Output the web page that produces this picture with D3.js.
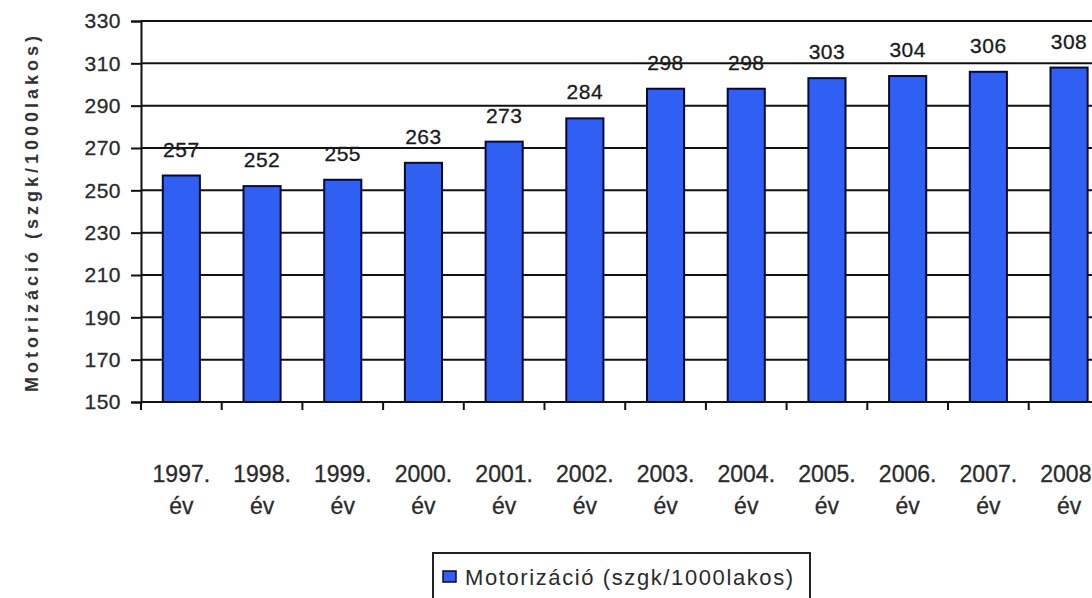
<!DOCTYPE html>
<html>
<head>
<meta charset="utf-8">
<script src="https://cdn.jsdelivr.net/npm/d3@7"></script>
<style>
  body { margin: 0; background: #fff; }
  svg { display: block; font-family: "Liberation Sans", Arial, sans-serif; }
</style>
</head>
<body>
<svg id="chart" width="1092" height="598"></svg>
<script>
// chart data
const years = ["1997.", "1998.", "1999.", "2000.", "2001.", "2002.", "2003.", "2004.", "2005.", "2006.", "2007.", "2008."];
const values = [257, 252, 255, 263, 273, 284, 298, 298, 303, 304, 306, 308];
const yTicks = [150, 170, 190, 210, 230, 250, 270, 290, 310, 330];
const seriesName = "Motorizáció (szgk/1000lakos)";
const yTitle = "Motorizáció (szgk/1000lakos)";

const svg = d3.select("#chart");

// plot area (the chart is cut off on the right in the original)
const plotLeft = 141, plotTop = 21, plotBottom = 402;
const bandW = 80.7;

const x = d3.scaleBand()
  .domain(years)
  .range([plotLeft, plotLeft + bandW * years.length])
  .paddingInner(0.54)
  .paddingOuter(0.27);

const y = d3.scaleLinear()
  .domain([150, 330])
  .range([plotBottom, plotTop]);

// horizontal grid lines
svg.append("g")
  .selectAll("line")
  .data(yTicks)
  .join("line")
  .attr("x1", plotLeft)
  .attr("x2", 1092)
  .attr("y1", d => y(d))
  .attr("y2", d => y(d))
  .attr("stroke", "#111")
  .attr("stroke-width", 2);

// bars
svg.append("g")
  .selectAll("rect")
  .data(values)
  .join("rect")
  .attr("x", (d, i) => x(years[i]))
  .attr("y", d => y(d))
  .attr("width", x.bandwidth())
  .attr("height", d => plotBottom - y(d))
  .attr("fill", "#2f5ff3")
  .attr("stroke", "#0a0a30")
  .attr("stroke-width", 2);

// value labels
svg.append("g")
  .selectAll("text")
  .data(values)
  .join("text")
  .attr("x", (d, i) => x(years[i]) + x.bandwidth() / 2)
  .attr("y", d => y(d) - 19)
  .attr("text-anchor", "middle")
  .attr("font-size", 21)
  .attr("letter-spacing", 0.5)
  .attr("fill", "#1a1a1a")
  .attr("stroke", "#1a1a1a")
  .attr("stroke-width", 0.3)
  .text(d => d);

// y axis
const yAxis = d3.axisLeft(y)
  .tickValues(yTicks)
  .tickSize(10)
  .tickPadding(10);

const gy = svg.append("g")
  .attr("transform", `translate(${plotLeft},0)`)
  .call(yAxis);
gy.select(".domain").attr("stroke", "#111").attr("stroke-width", 2);
gy.selectAll(".tick line").attr("stroke", "#111").attr("stroke-width", 2);
gy.selectAll(".tick text")
  .attr("font-size", 21)
  .attr("letter-spacing", 0.5)
  .attr("fill", "#2a2a2a")
  .attr("stroke", "#2a2a2a")
  .attr("stroke-width", 0.3)
  .attr("font-family", "'Liberation Sans', Arial, sans-serif");

// x axis: ticks at band boundaries
svg.append("line")
  .attr("x1", plotLeft).attr("x2", 1092)
  .attr("y1", plotBottom).attr("y2", plotBottom)
  .attr("stroke", "#111").attr("stroke-width", 2);

svg.append("g")
  .selectAll("line")
  .data(d3.range(years.length + 1))
  .join("line")
  .attr("x1", i => plotLeft + i * bandW)
  .attr("x2", i => plotLeft + i * bandW)
  .attr("y1", plotBottom)
  .attr("y2", plotBottom + 8)
  .attr("stroke", "#111")
  .attr("stroke-width", 2);

// category labels, two lines
const cat = svg.append("g")
  .selectAll("text")
  .data(years)
  .join("text")
  .attr("text-anchor", "middle")
  .attr("font-size", 23)
  .attr("fill", "#2a2a2a")
  .attr("stroke", "#2a2a2a")
  .attr("stroke-width", 0.3);
cat.append("tspan")
  .attr("x", d => x(d) + x.bandwidth() / 2)
  .attr("y", 482)
  .text(d => d);
cat.append("tspan")
  .attr("x", d => x(d) + x.bandwidth() / 2)
  .attr("y", 514)
  .text("év");

// y title
svg.append("text")
  .attr("transform", "translate(38,212) rotate(-90)")
  .attr("text-anchor", "middle")
  .attr("font-size", 18)
  .attr("font-weight", "bold")
  .attr("fill", "#333")
  .attr("letter-spacing", 4)
  .text(yTitle);

// legend
const lg = svg.append("g");
lg.append("rect")
  .attr("x", 433).attr("y", 553)
  .attr("width", 377).attr("height", 60)
  .attr("fill", "#fff")
  .attr("stroke", "#222")
  .attr("stroke-width", 2);
lg.append("rect")
  .attr("x", 443).attr("y", 571)
  .attr("width", 13).attr("height", 11)
  .attr("fill", "#2f5ff3")
  .attr("stroke", "#0a0a30")
  .attr("stroke-width", 1.5);
lg.append("text")
  .attr("x", 465).attr("y", 585)
  .attr("font-size", 22)
  .attr("letter-spacing", 1.6)
  .attr("fill", "#2a2a2a")
  .text(seriesName);
</script>
</body>
</html>
